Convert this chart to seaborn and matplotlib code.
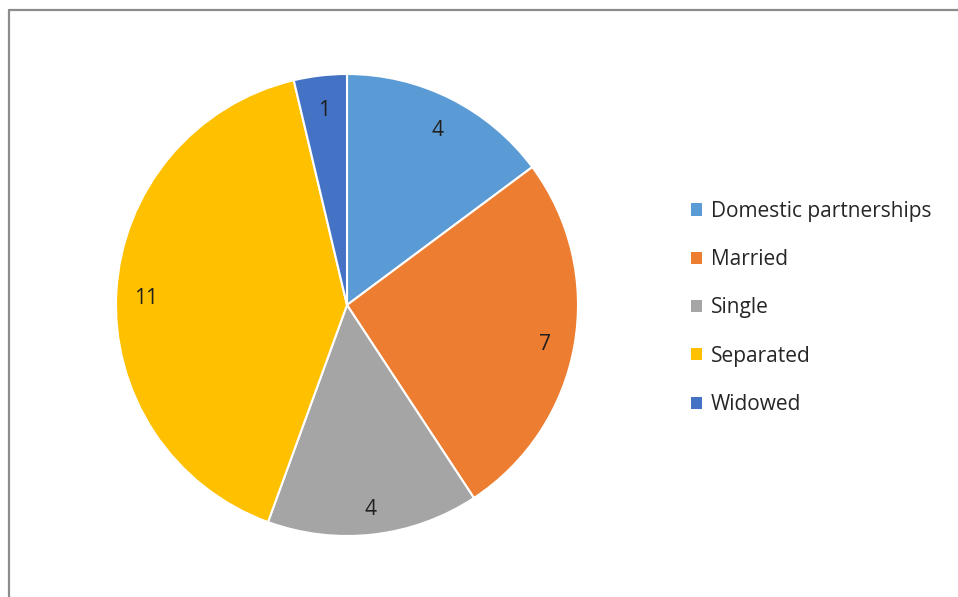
import matplotlib
matplotlib.use("Agg")
import matplotlib.pyplot as plt
from matplotlib.lines import Line2D
from matplotlib.patches import Patch
from matplotlib.transforms import offset_copy
import seaborn as sns

categories = ["Domestic partnerships", "Married", "Single", "Separated", "Widowed"]
counts = [4, 7, 4, 11, 1]
colors = ["#5B9BD5", "#ED7D31", "#A5A5A5", "#FFC000", "#4472C4"]

sns.set_theme(style="white")
plt.rcParams["font.family"] = ["Open Sans", "DejaVu Sans"]

W, H = 958, 597
fig = plt.figure(figsize=(W / 100, H / 100), dpi=100)
fig.patch.set_facecolor("white")

# pie area: square axes, centred on the left part of the chart
cx, cy, r = 347, 305, 231
ax = fig.add_axes([(cx - r) / W, (H - cy - r) / H, 2 * r / W, 2 * r / H])
total = sum(counts)
wedges, _, autotexts = ax.pie(
    counts,
    colors=colors,
    startangle=90,
    counterclock=False,
    radius=1.0,
    autopct=lambda p: f"{round(p * total / 100)}",
    pctdistance=0.87,
    wedgeprops=dict(edgecolor="white", linewidth=1.5),
    textprops=dict(fontsize=15, color="#1f1f1f"),
)
# value labels sit a little below their slice anchor
for t in autotexts:
    t.set_transform(offset_copy(t.get_transform(), fig=fig, x=0, y=-5, units="dots"))
ax.set_xlim(-1.0, 1.0)
ax.set_ylim(-1.0, 1.0)
ax.set_aspect("equal")
ax.axis("off")

handles = [Patch(facecolor=c, edgecolor="none") for c in colors]
fig.legend(
    handles,
    categories,
    loc="center left",
    bbox_to_anchor=(672 / W, 1 - 308 / H),
    frameon=False,
    fontsize=15,
    labelspacing=1.31,
    handlelength=0.52,
    handleheight=0.52,
    handletextpad=0.45,
    labelcolor="#262626",
)

# chart border (top and left edges)
fig.add_artist(Line2D([8.5 / W, 1.0], [1 - 9.5 / H, 1 - 9.5 / H], transform=fig.transFigure,
                      color="#8c8c8c", linewidth=1.6))
fig.add_artist(Line2D([8.5 / W, 8.5 / W], [0.0, 1 - 9.5 / H], transform=fig.transFigure,
                      color="#8c8c8c", linewidth=1.6))

fig.savefig("out.png", dpi=100, facecolor="white")
